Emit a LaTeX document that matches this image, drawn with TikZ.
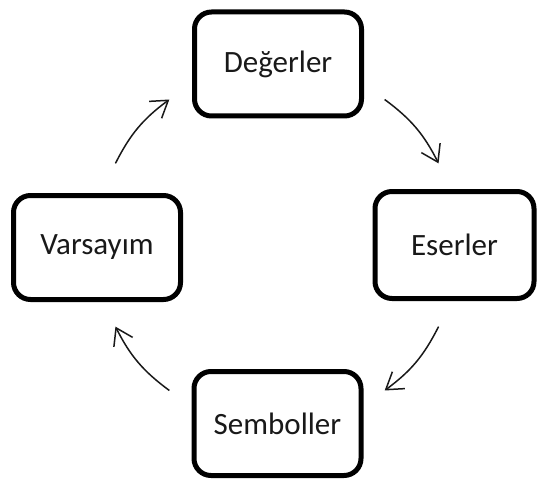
\documentclass[tikz,border=0pt]{standalone}
\usepackage{fontspec}
\setmainfont{Carlito}
\usetikzlibrary{arrows.meta,calc}
\begin{document}
\begin{tikzpicture}[x=1pt,y=1pt,
  stage/.style={draw=black, line width=5pt, rounded corners=17pt, fill=white,
    inner sep=0pt, minimum width=167pt, minimum height=104pt,
    font=\fontsize{31}{36}\selectfont, text=black!90},
  flow/.style={line width=1.5pt, draw=black!90,
    -{Straight Barb[length=16pt,width=21pt,line width=1.5pt]}}]
\useasboundingbox (0,0) rectangle (537,480);

% the four stages of the cycle
\node[stage] (deg) at (278,416) {Değerler};
\node[stage, minimum width=159pt, minimum height=107pt] (ese) at (454.5,235) {Eserler};
\node[stage] (sem) at (277.5,56.5) {Semboller};
\node[stage] (var) at (97,232.5) {Varsayım};

% arrow end points on a common circle around the cycle
\coordinate (c) at (277,235);
\coordinate (a1s) at ($(c)+(53.5:181)$);
\coordinate (a1e) at ($(c)+(26.8:181)$);
\coordinate (a2s) at ($(c)+(-26.8:181)$);
\coordinate (a2e) at ($(c)+(-53.5:181)$);
\coordinate (a3s) at ($(c)+(-126.5:181)$);
\coordinate (a3e) at ($(c)+(-153.2:181)$);
\coordinate (a4s) at ($(c)+(153.2:181)$);
\coordinate (a4e) at ($(c)+(126.5:181)$);

\draw[flow] (a1s) to[bend left=13.4] (a1e);
\draw[flow] (a2s) to[bend left=13.4] (a2e);
\draw[flow] (a3s) to[bend left=13.4] (a3e);
\draw[flow] (a4s) to[bend left=13.4] (a4e);
\end{tikzpicture}
\end{document}
